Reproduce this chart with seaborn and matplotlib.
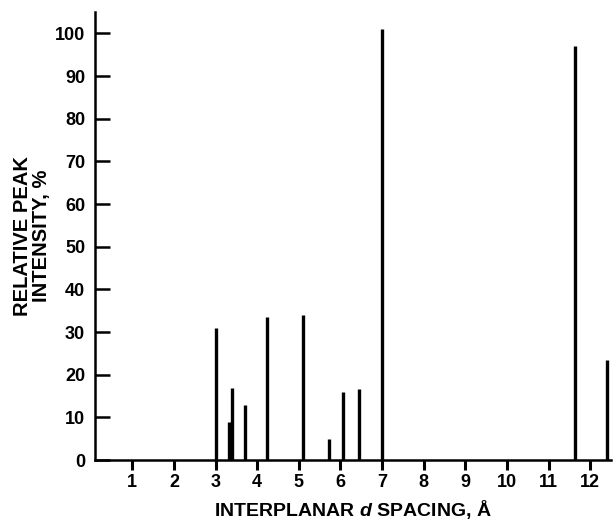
import matplotlib
matplotlib.use("Agg")
import matplotlib.pyplot as plt
import seaborn as sns
import pandas as pd

d_spacing = [3.0, 3.33, 3.4, 3.7, 4.24, 5.1, 5.72, 6.07, 6.45, 7.0, 11.64, 12.4]
intensity = [31, 9, 17, 13, 33.5, 34, 5, 16, 16.6, 101, 97, 23.4]
x_ticks = [1, 2, 3, 4, 5, 6, 7, 8, 9, 10, 11, 12]
y_ticks = [0, 10, 20, 30, 40, 50, 60, 70, 80, 90, 100]

sns.set_style("ticks")
plt.rcParams['font.family'] = ['Liberation Sans', 'DejaVu Sans']
plt.rcParams['mathtext.fontset'] = 'custom'
plt.rcParams['mathtext.it'] = 'Liberation Sans:italic:bold'
plt.rcParams['mathtext.rm'] = 'Liberation Sans:bold'
for k in ['text.color', 'axes.labelcolor', 'xtick.color', 'ytick.color', 'axes.edgecolor']:
    plt.rcParams[k] = 'black'

df = pd.DataFrame({"d": d_spacing, "I": intensity})

fig = plt.figure(figsize=(6.16, 5.24), dpi=100)
ax = fig.add_axes([0.154, 0.122, 0.838, 0.855])

ax.vlines(df["d"], 0, df["I"], colors="black", linewidth=2.4)
sns.despine(ax=ax)

ax.set_xlim(0.1, 12.5)
ax.set_ylim(0, 105)
ax.set_xticks(x_ticks)
ax.set_yticks(y_ticks)
ax.set_xticklabels([str(v) for v in x_ticks], fontsize=13, fontweight="bold")
ax.set_yticklabels([str(v) for v in y_ticks], fontsize=13, fontweight="bold")
ax.tick_params(axis="y", direction="in", length=11, width=1.8, pad=7, colors="black")
ax.tick_params(axis="x", direction="out", length=7, width=2.2, pad=3, colors="black")
for s in ["left", "bottom"]:
    ax.spines[s].set_linewidth(1.8)
    ax.spines[s].set_color("black")

ax.set_xlabel("INTERPLANAR $\\mathit{d}$ SPACING, Å", fontsize=14, fontweight="bold",
              labelpad=5, color="black")
ax.set_ylabel("RELATIVE PEAK\nINTENSITY, %", fontsize=14.5, fontweight="bold", labelpad=3,
              linespacing=0.95, color="black")

fig.savefig("out.png", dpi=100)
